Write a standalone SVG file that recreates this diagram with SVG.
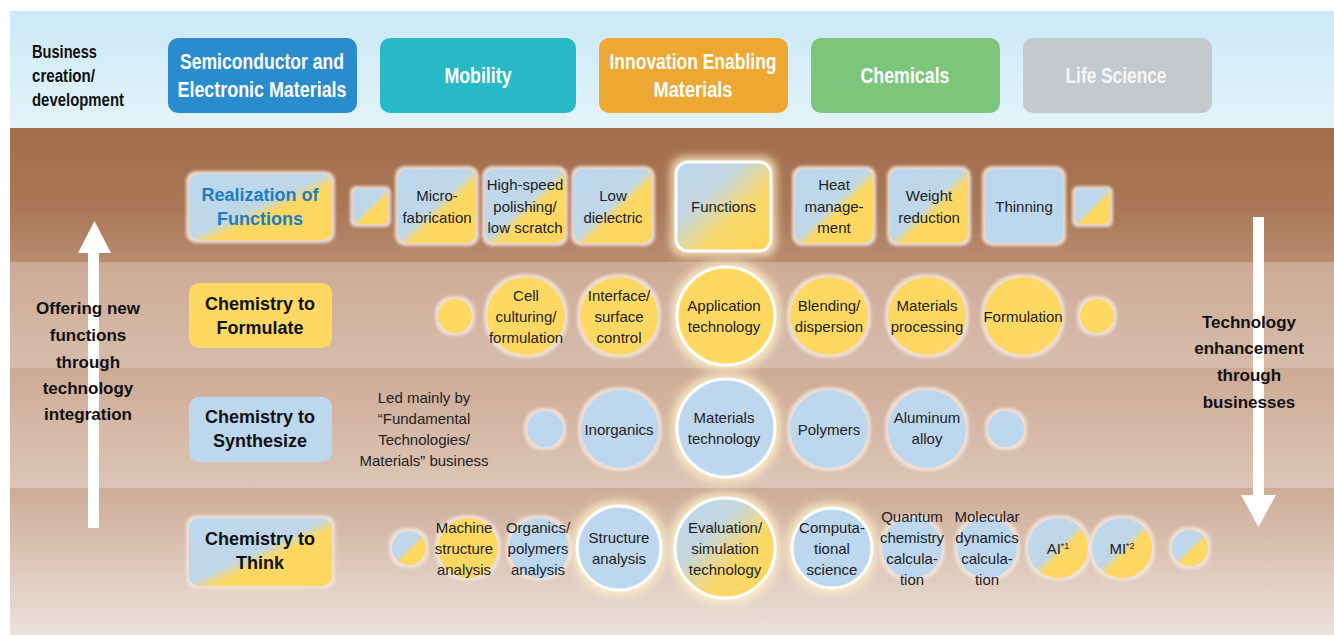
<svg xmlns="http://www.w3.org/2000/svg" width="1334" height="635" viewBox="0 0 1334 635">
<defs>
<linearGradient id="sky" x1="0" y1="0" x2="0" y2="1"><stop offset="0" stop-color="#cbe9f7"/><stop offset="1" stop-color="#e3f3f9"/></linearGradient>
<linearGradient id="b1" x1="0" y1="0" x2="0" y2="1"><stop offset="0" stop-color="#a36d4c"/><stop offset="0.6" stop-color="#a97757"/><stop offset="1" stop-color="#b98c70"/></linearGradient>
<linearGradient id="b2" x1="0" y1="0" x2="0" y2="1"><stop offset="0" stop-color="#cdaa95"/><stop offset="1" stop-color="#d7bcab"/></linearGradient>
<linearGradient id="b3" x1="0" y1="0" x2="0" y2="1"><stop offset="0" stop-color="#cdaa94"/><stop offset="1" stop-color="#ddc5b7"/></linearGradient>
<linearGradient id="b4" x1="0" y1="0" x2="0" y2="1"><stop offset="0" stop-color="#cdab96"/><stop offset="1" stop-color="#ece2dc"/></linearGradient>
<linearGradient id="by" x1="0" y1="0" x2="1" y2="1"><stop offset="0" stop-color="#bcd7ee"/><stop offset="0.48" stop-color="#bfd7e8"/><stop offset="0.58" stop-color="#fdd964"/><stop offset="1" stop-color="#fdd65e"/></linearGradient>
<linearGradient id="bys" x1="0" y1="0" x2="1" y2="1"><stop offset="0" stop-color="#bcd7ee"/><stop offset="0.35" stop-color="#c4d6e0"/><stop offset="0.62" stop-color="#f9d96c"/><stop offset="1" stop-color="#fdd45a"/></linearGradient>
<filter id="halo" x="-25%" y="-25%" width="150%" height="150%">
<feMorphology in="SourceAlpha" operator="dilate" radius="3" result="d"/>
<feGaussianBlur in="d" stdDeviation="1.6" result="b"/>
<feFlood flood-color="#f3e3d9" flood-opacity="0.9"/>
<feComposite in2="b" operator="in" result="g"/>
<feMerge><feMergeNode in="g"/><feMergeNode in="SourceGraphic"/></feMerge>
</filter>
<filter id="hl" x="-30%" y="-30%" width="160%" height="160%">
<feMorphology in="SourceAlpha" operator="dilate" radius="4" result="d"/>
<feGaussianBlur in="d" stdDeviation="4" result="b"/>
<feFlood flood-color="#fff1c8" flood-opacity="0.8"/>
<feComposite in2="b" operator="in" result="g"/>
<feMerge><feMergeNode in="g"/><feMergeNode in="SourceGraphic"/></feMerge>
</filter>
</defs>
<style>
.bt{font-family:"Liberation Sans",Arial,sans-serif;font-weight:bold;fill:#fff;font-size:22px;text-anchor:middle}
.bl{font-family:"Liberation Sans",Arial,sans-serif;font-weight:bold;fill:#111;font-size:18px}
.lab{font-family:"Liberation Sans",Arial,sans-serif;font-weight:bold;fill:#111;font-size:18px;text-anchor:middle}
.labb{font-family:"Liberation Sans",Arial,sans-serif;font-weight:bold;fill:#1a7dc4;font-size:18px;text-anchor:middle}
.t{font-family:"Liberation Sans",Arial,sans-serif;fill:#222;font-size:15px;text-anchor:middle}
.side{font-family:"Liberation Sans",Arial,sans-serif;font-weight:bold;fill:#111;font-size:17px;text-anchor:middle}
.hw{stroke:#fff;stroke-width:3}
</style>
<rect width="1334" height="635" fill="#fff"/>
<g id="background">
<rect x="10" y="11" width="1324" height="117" fill="url(#sky)"/>
<rect x="10" y="128" width="1324" height="134" fill="url(#b1)"/>
<rect x="10" y="262" width="1324" height="106" fill="url(#b2)"/>
<rect x="10" y="368" width="1324" height="120" fill="url(#b3)"/>
<rect x="10" y="488" width="1324" height="147" fill="url(#b4)"/>
</g>
<g id="banner-label">
<text class="bl" x="32" y="58" textLength="65" lengthAdjust="spacingAndGlyphs">Business</text>
<text class="bl" x="32" y="82" textLength="63" lengthAdjust="spacingAndGlyphs">creation/</text>
<text class="bl" x="32" y="106" textLength="92" lengthAdjust="spacingAndGlyphs">development</text>
</g>
<g id="biz-semi"><rect x="168" y="38" width="189" height="75" rx="10" fill="#2a8ccc"/>
<text class="bt" x="262" y="69" textLength="164" lengthAdjust="spacingAndGlyphs">Semiconductor and</text>
<text class="bt" x="262" y="97" textLength="169" lengthAdjust="spacingAndGlyphs">Electronic Materials</text></g>
<g id="biz-mobility"><rect x="380" y="38" width="196" height="75" rx="10" fill="#27b9c6"/>
<text class="bt" x="478" y="83" textLength="67" lengthAdjust="spacingAndGlyphs">Mobility</text></g>
<g id="biz-innov"><rect x="599" y="38" width="189" height="75" rx="10" fill="#eca832"/>
<text class="bt" x="693" y="69" textLength="167" lengthAdjust="spacingAndGlyphs">Innovation Enabling</text>
<text class="bt" x="693" y="97" textLength="79" lengthAdjust="spacingAndGlyphs">Materials</text></g>
<g id="biz-chem"><rect x="811" y="38" width="189" height="75" rx="10" fill="#7dc57a"/>
<text class="bt" x="905" y="83" textLength="89" lengthAdjust="spacingAndGlyphs">Chemicals</text></g>
<g id="biz-life"><rect x="1023" y="38" width="189" height="75" rx="10" fill="#c3c9cc"/>
<text class="bt" x="1116" y="83" textLength="101" lengthAdjust="spacingAndGlyphs" style="fill:#f6f6f6">Life Science</text></g>

<g id="connectors">
<path d="M88,528 V253 H78 L94.5,221 L111,253 H99 V528 Z" fill="#fff"/>
<path d="M1253,217 V495 H1241 L1258.5,527 L1276,495 H1264 V217 Z" fill="#fff"/>
</g>
<g id="side-left">
<text class="side" x="88" y="314">Offering new</text>
<text class="side" x="88" y="341">functions</text>
<text class="side" x="88" y="368">through</text>
<text class="side" x="88" y="394">technology</text>
<text class="side" x="88" y="420">integration</text>
</g>
<g id="side-right">
<text class="side" x="1249" y="328">Technology</text>
<text class="side" x="1249" y="354">enhancement</text>
<text class="side" x="1249" y="381">through</text>
<text class="side" x="1249" y="408">businesses</text>
</g>

<!-- Row 1 -->
<g id="realization"><rect x="189" y="174" width="143" height="66" rx="10" fill="url(#by)" filter="url(#halo)"/>
<text class="labb" x="260" y="201">Realization of</text><text class="labb" x="260" y="225">Functions</text></g>
<g id="r1-s1"><rect x="353" y="189" width="35" height="35" rx="6" fill="url(#by)" filter="url(#halo)"/></g>
<g id="microfab"><rect x="398" y="169" width="78" height="74" rx="10" fill="url(#by)" filter="url(#halo)"/>
<text class="t" x="437" y="200.5">Micro-</text><text class="t" x="437" y="222.5">fabrication</text></g>
<g id="highspeed"><rect x="485" y="169" width="80" height="74" rx="10" fill="url(#by)" filter="url(#halo)"/>
<text class="t" x="525" y="189.5">High-speed</text><text class="t" x="525" y="211.5">polishing/</text><text class="t" x="525" y="232.5">low scratch</text></g>
<g id="lowdiel"><rect x="574" y="169" width="78" height="74" rx="10" fill="url(#by)" filter="url(#halo)"/>
<text class="t" x="613" y="200.5">Low</text><text class="t" x="613" y="222.5">dielectric</text></g>
<g id="functions"><rect x="676" y="162" width="95" height="89" rx="12" fill="url(#bys)" class="hw" filter="url(#hl)"/>
<text class="t" x="723.5" y="211.5">Functions</text></g>
<g id="heat"><rect x="795" y="169" width="78" height="74" rx="10" fill="url(#by)" filter="url(#halo)"/>
<text class="t" x="834" y="189.5">Heat</text><text class="t" x="834" y="211.5">manage-</text><text class="t" x="834" y="232.5">ment</text></g>
<g id="weight"><rect x="890" y="169" width="78" height="74" rx="10" fill="url(#by)" filter="url(#halo)"/>
<text class="t" x="929" y="200.5">Weight</text><text class="t" x="929" y="222.5">reduction</text></g>
<g id="thinning"><rect x="985" y="169" width="78" height="74" rx="10" fill="#bdd7ee" filter="url(#halo)"/>
<text class="t" x="1024" y="211.5">Thinning</text></g>
<g id="r1-s2"><rect x="1075" y="189" width="35" height="35" rx="6" fill="url(#by)" filter="url(#halo)"/></g>

<!-- Row 2 -->
<g id="formulate"><rect x="189" y="283" width="143" height="65" rx="10" fill="#fdd964"/>
<text class="lab" x="260" y="310">Chemistry to</text><text class="lab" x="260" y="334">Formulate</text></g>
<g id="r2-s1"><circle cx="455" cy="316" r="17" fill="#fdd964" filter="url(#halo)"/></g>
<g id="cell"><circle cx="526" cy="316" r="39" fill="#fdd964" filter="url(#halo)"/>
<text class="t" x="526" y="300.5">Cell</text><text class="t" x="526" y="321.5">culturing/</text><text class="t" x="526" y="342.5">formulation</text></g>
<g id="interface"><circle cx="619" cy="316" r="39" fill="#fdd964" filter="url(#halo)"/>
<text class="t" x="619" y="300.5">Interface/</text><text class="t" x="619" y="321.5">surface</text><text class="t" x="619" y="342.5">control</text></g>
<g id="application"><circle cx="726" cy="316" r="49" fill="#fdd964" class="hw" filter="url(#hl)"/>
<text class="t" x="724" y="311">Application</text><text class="t" x="724" y="332">technology</text></g>
<g id="blending"><circle cx="829" cy="316" r="39" fill="#fdd964" filter="url(#halo)"/>
<text class="t" x="829" y="311">Blending/</text><text class="t" x="829" y="332">dispersion</text></g>
<g id="matproc"><circle cx="927" cy="316" r="39" fill="#fdd964" filter="url(#halo)"/>
<text class="t" x="927" y="311">Materials</text><text class="t" x="927" y="332">processing</text></g>
<g id="formulation"><circle cx="1023" cy="316" r="39" fill="#fdd964" filter="url(#halo)"/>
<text class="t" x="1023" y="321.5">Formulation</text></g>
<g id="r2-s2"><circle cx="1097" cy="316" r="17" fill="#fdd964" filter="url(#halo)"/></g>

<!-- Row 3 -->
<g id="synthesize"><rect x="189" y="397" width="143" height="65" rx="10" fill="#bdd7ee"/>
<text class="lab" x="260" y="423">Chemistry to</text><text class="lab" x="260" y="447">Synthesize</text></g>
<g id="ledby"><text class="t" x="424" y="402.5">Led mainly by</text><text class="t" x="424" y="423.5">“Fundamental</text><text class="t" x="424" y="444.5">Technologies/</text><text class="t" x="424" y="465.5">Materials” business</text></g>
<g id="r3-s1"><circle cx="545" cy="429" r="18" fill="#bdd7ee" filter="url(#halo)"/></g>
<g id="inorganics"><circle cx="620" cy="429" r="39" fill="#bdd7ee" filter="url(#halo)"/>
<text class="t" x="619" y="434.5">Inorganics</text></g>
<g id="mattech"><circle cx="726" cy="428" r="49" fill="#bdd7ee" class="hw" filter="url(#hl)"/>
<text class="t" x="724" y="423">Materials</text><text class="t" x="724" y="444">technology</text></g>
<g id="polymers"><circle cx="829" cy="429" r="39" fill="#bdd7ee" filter="url(#halo)"/>
<text class="t" x="829" y="434.5">Polymers</text></g>
<g id="aluminum"><circle cx="927" cy="429" r="39" fill="#bdd7ee" filter="url(#halo)"/>
<text class="t" x="927" y="423">Aluminum</text><text class="t" x="927" y="444">alloy</text></g>
<g id="r3-s2"><circle cx="1006" cy="429" r="18" fill="#bdd7ee" filter="url(#halo)"/></g>

<!-- Row 4 -->
<g id="think"><rect x="189" y="518" width="143" height="68" rx="10" fill="url(#by)" filter="url(#halo)"/>
<text class="lab" x="260" y="545">Chemistry to</text><text class="lab" x="260" y="569">Think</text></g>
<g id="r4-s1"><circle cx="409" cy="548" r="17" fill="url(#by)" filter="url(#halo)"/></g>
<g id="machine"><circle cx="468" cy="548" r="30" fill="#fdd964" filter="url(#halo)"/>
<text class="t" x="464" y="532.5">Machine</text><text class="t" x="464" y="553.5">structure</text><text class="t" x="464" y="575">analysis</text></g>
<g id="orgpoly"><circle cx="539" cy="548" r="30" fill="#bdd7ee" filter="url(#halo)"/>
<text class="t" x="538" y="532.5">Organics/</text><text class="t" x="538" y="553.5">polymers</text><text class="t" x="538" y="575">analysis</text></g>
<g id="structure"><circle cx="619" cy="548" r="42" fill="#bdd7ee" class="hw" filter="url(#hl)"/>
<text class="t" x="619" y="542.5">Structure</text><text class="t" x="619" y="563.5">analysis</text></g>
<g id="evaluation"><circle cx="725" cy="548" r="50" fill="url(#bys)" class="hw" filter="url(#hl)"/>
<text class="t" x="725" y="532.5">Evaluation/</text><text class="t" x="725" y="553.5">simulation</text><text class="t" x="725" y="575">technology</text></g>
<g id="computational"><circle cx="832" cy="548" r="40" fill="#bdd7ee" class="hw" filter="url(#hl)"/>
<text class="t" x="832" y="532.5">Computa-</text><text class="t" x="832" y="553.5">tional</text><text class="t" x="832" y="575">science</text></g>
<g id="quantum"><circle cx="912" cy="548" r="30" fill="#bdd7ee" filter="url(#halo)"/>
<text class="t" x="912" y="521.5">Quantum</text><text class="t" x="912" y="542.5">chemistry</text><text class="t" x="912" y="563.5">calcula-</text><text class="t" x="912" y="584.5">tion</text></g>
<g id="molecular"><circle cx="987" cy="548" r="30" fill="#bdd7ee" filter="url(#halo)"/>
<text class="t" x="987" y="521.5">Molecular</text><text class="t" x="987" y="542.5">dynamics</text><text class="t" x="987" y="563.5">calcula-</text><text class="t" x="987" y="584.5">tion</text></g>
<g id="ai"><circle cx="1058" cy="548" r="30" fill="url(#by)" filter="url(#halo)"/>
<text class="t" x="1058" y="553.5">AI<tspan font-size="9" dy="-5">*1</tspan></text></g>
<g id="mi"><circle cx="1122" cy="548" r="30" fill="url(#by)" filter="url(#halo)"/>
<text class="t" x="1122" y="553.5">MI<tspan font-size="9" dy="-5">*2</tspan></text></g>
<g id="r4-s2"><circle cx="1190" cy="548" r="18" fill="url(#by)" filter="url(#halo)"/></g>
</svg>
